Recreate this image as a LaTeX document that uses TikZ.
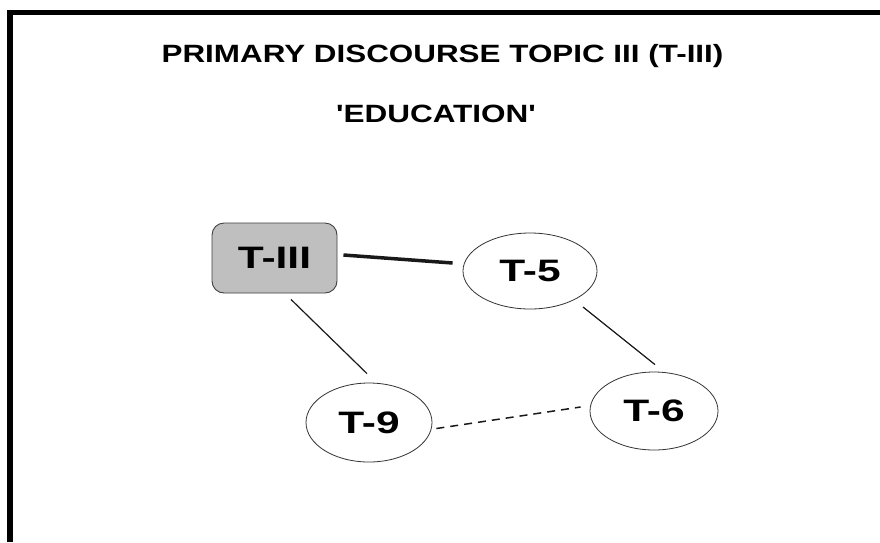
\documentclass[tikz,border=0pt]{standalone}
\usepackage{fontspec}
\usepackage{graphicx}
\setmainfont{Liberation Sans}
\usetikzlibrary{shapes.geometric,calc}
\begin{document}
\begin{tikzpicture}[x=1pt,y=-1pt,
  titletext/.style={anchor=base, inner sep=0pt,
    font=\fontsize{25}{25}\selectfont\bfseries},
  topicfont/.style={font=\fontsize{31}{31}\selectfont\bfseries},
  topicbox/.style={topicfont, draw=black!75, fill=black!25, rounded corners=12pt,
    minimum width=125pt, minimum height=70pt, inner sep=0pt, line width=0.9pt},
  topicoval/.style={topicfont, ellipse, draw=black!80, fill=white, inner sep=0pt,
    line width=0.8pt},
  link/.style={draw=black!90, line width=1.2pt},
]
\useasboundingbox (0,0) rectangle (880,542);
\fill[white] (0,0) rectangle (880,542);

% heavy frame on the left and top
\draw[line width=5.5pt, line join=miter] (9.75,542) -- (9.75,12.5) -- (880,12.5);

% headings
\node[titletext] (title) at (442.5,62)
  {\scalebox{1.256}[1]{PRIMARY DISCOURSE TOPIC III (T-III)}};
\node[titletext] (subtitle) at (436,122)
  {\scalebox{1.26}[1]{\textquotesingle EDUCATION\textquotesingle}};

% topic nodes
\node[topicbox] (tiii) at (274.5,258) {\scalebox{1.37}[1]{T-III}};
\node[topicoval, minimum width=134pt, minimum height=76pt] (t5) at (530,271)
  {\scalebox{1.37}[1]{T-5}};
\node[topicoval, minimum width=126pt, minimum height=79pt] (t9) at (369,422.5)
  {\scalebox{1.37}[1]{T-9}};
\node[topicoval, minimum width=128pt, minimum height=78pt] (t6) at (654,411)
  {\scalebox{1.37}[1]{T-6}};

% links between topics
\draw[link, line width=3.5pt] ($(tiii.east)+(6,-3)$) -- ($(t5.west)+(-10,-8)$);
\draw[link] ($(tiii.south)+(16.5,6)$) -- ($(t9.north)+(-2,-9)$);
\draw[link] ($(t5.center)+(53,36)$) -- ($(t6.north)+(1,-7)$);
\draw[link, line width=1.5pt, dash pattern=on 8pt off 6pt]
  ($(t9.east)+(4,6)$) -- ($(t6.west)+(-9,-4)$);
\end{tikzpicture}
\end{document}
